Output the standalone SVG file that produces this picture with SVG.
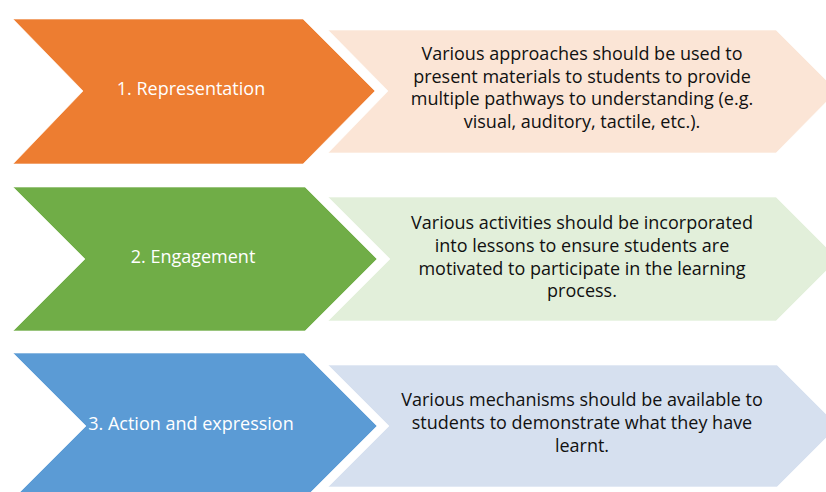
<svg xmlns="http://www.w3.org/2000/svg" width="826" height="492" viewBox="0 0 826 492">
  <style>
    .lbl { font-family: "Open Sans", Lato, "Liberation Sans", sans-serif; font-size: 18px; font-weight: 500; fill: #ffffff; text-anchor: middle; }
    .desc { font-family: "Open Sans", Lato, "Liberation Sans", sans-serif; font-size: 18px; font-weight: 500; fill: #111111; text-anchor: middle; }
    .dark { stroke: #ffffff; stroke-width: 1; stroke-opacity: 0.6; }
    .pale { stroke: #ffffff; stroke-width: 1; stroke-opacity: 0.6; }
  </style>
  <rect width="826" height="492" fill="#ffffff"/>
  <g id="step1">
    <polygon class="dark" points="13,19 303,19 375,91 303,164 13,164 83,91" fill="#ED7D31"/>
    <text class="lbl" x="191" y="95">1. Representation</text>
  </g>
  <g id="desc1">
    <polygon class="pale" points="328,30 776,30 837,91 776,153 328,153 388,91" fill="#FBE5D6"/>
    <text class="desc" x="582" y="60">Various approaches should be used to</text>
    <text class="desc" x="582" y="83">present materials to students to provide</text>
    <text class="desc" x="582" y="105">multiple pathways to understanding (e.g.</text>
    <text class="desc" x="582" y="128">visual, auditory, tactile, etc.).</text>
  </g>
  <g id="step2">
    <polygon class="dark" points="13,187 305,187 377,259 305,331 13,331 85,259" fill="#70AD47"/>
    <text class="lbl" x="193" y="263">2. Engagement</text>
  </g>
  <g id="desc2">
    <polygon class="pale" points="328,197 776,197 838,259 776,321 328,321 390,259" fill="#E2EFDA"/>
    <text class="desc" x="582" y="229">Various activities should be incorporated</text>
    <text class="desc" x="582" y="252">into lessons to ensure students are</text>
    <text class="desc" x="582" y="275">motivated to participate in the learning</text>
    <text class="desc" x="582" y="297">process.</text>
  </g>
  <g id="step3">
    <polygon class="dark" points="13,353 304,353 377,426 304,499 13,499 86,426" fill="#5B9BD5"/>
    <text class="lbl" x="191" y="430">3. Action and expression</text>
  </g>
  <g id="desc3">
    <polygon class="pale" points="328,365 777,365 838,426 777,487 328,487 389,426" fill="#D6E0EF"/>
    <text class="desc" x="582" y="406">Various mechanisms should be available to</text>
    <text class="desc" x="582" y="429">students to demonstrate what they have</text>
    <text class="desc" x="582" y="452">learnt.</text>
  </g>
  <g id="connectors"/>
</svg>
